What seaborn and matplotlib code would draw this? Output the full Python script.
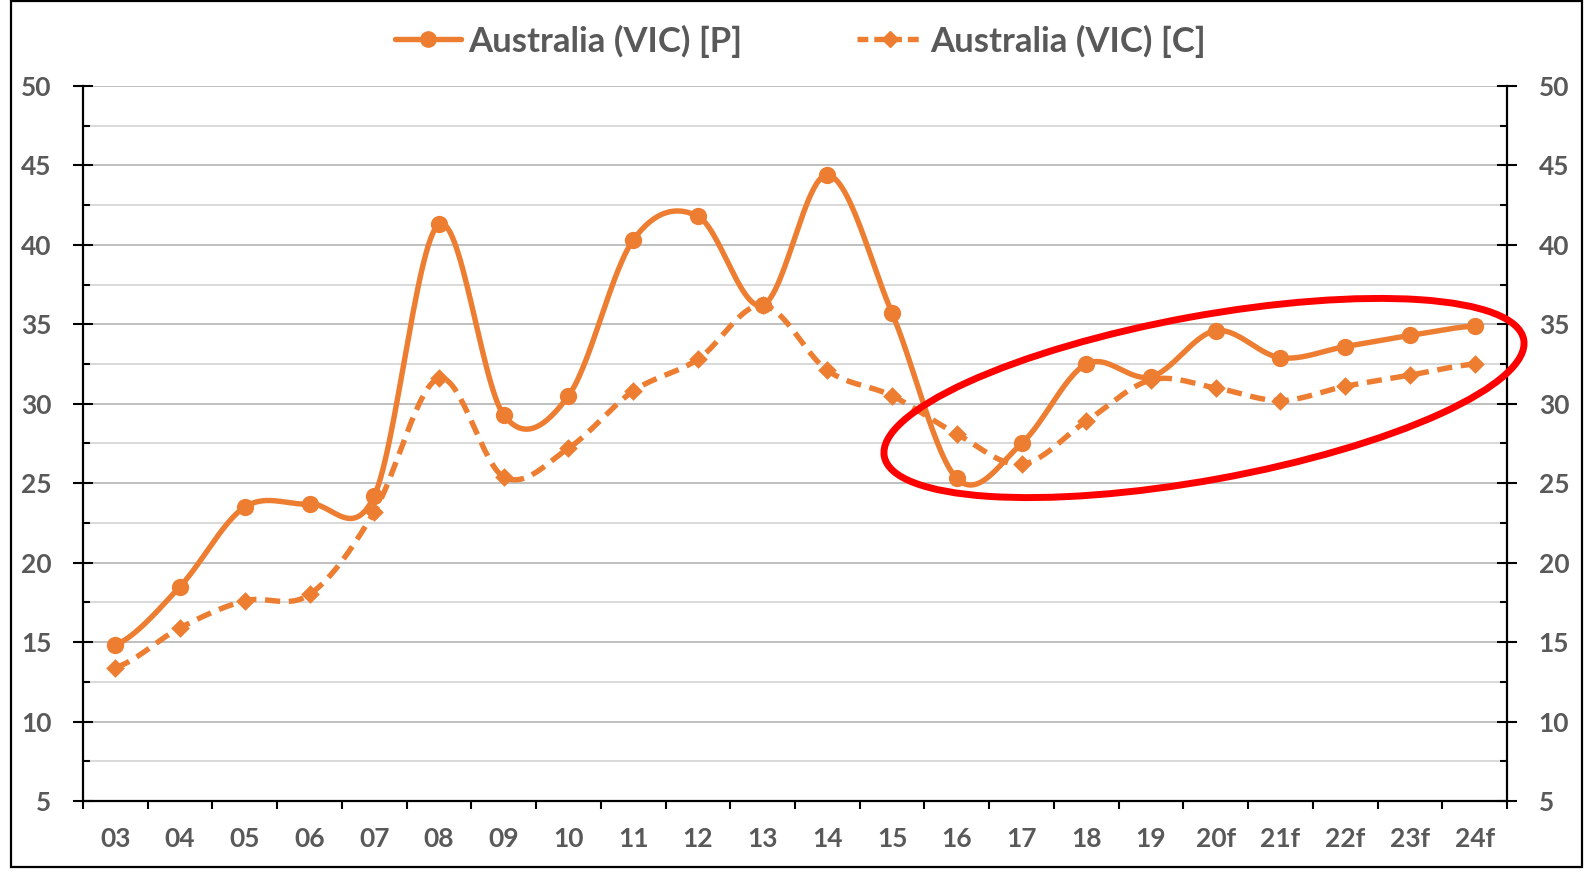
import numpy as np
import pandas as pd
import matplotlib
matplotlib.use("Agg")
import matplotlib.pyplot as plt
import seaborn as sns
from matplotlib.patches import Ellipse, Rectangle
from matplotlib.lines import Line2D

# ---------------- data ----------------
years = ["03", "04", "05", "06", "07", "08", "09", "10", "11", "12", "13",
         "14", "15", "16", "17", "18", "19", "20f", "21f", "22f", "23f", "24f"]
vic_p = [14.8, 18.5, 23.5, 23.7, 24.2, 41.3, 29.3, 30.5, 40.3, 41.8, 36.2,
         44.4, 35.7, 25.3, 27.5, 32.5, 31.7, 34.6, 32.9, 33.6, 34.3, 34.9]
vic_c = [13.4, 15.9, 17.6, 18.0, 23.2, 31.6, 25.4, 27.2, 30.8, 32.8, 36.2,
         32.1, 30.5, 28.1, 26.2, 28.9, 31.5, 31.0, 30.2, 31.1, 31.8, 32.5]
series_names = ["Australia (VIC) [P]", "Australia (VIC) [C]"]
y_major = [5, 10, 15, 20, 25, 30, 35, 40, 45, 50]

ORANGE = "#ED7D31"
GREY_TXT = "#595959"
LW = 3.9

sns.set_theme(style="white")
plt.rcParams['font.family'] = ['Lato', 'DejaVu Sans']
plt.rcParams['font.weight'] = 'bold'


def smooth(vals, n=30):
    """Excel-like smoothed line (Catmull-Rom / cubic Hermite through points)."""
    y = np.asarray(vals, float)
    m = len(y)
    tang = np.empty(m)
    tang[1:-1] = (y[2:] - y[:-2]) / 2.0
    tang[0] = (y[1] - y[0]) / 2.0
    tang[-1] = (y[-1] - y[-2]) / 2.0
    xs, ys = [], []
    t = np.linspace(0, 1, n, endpoint=False)
    h00 = 2 * t**3 - 3 * t**2 + 1
    h10 = t**3 - 2 * t**2 + t
    h01 = -2 * t**3 + 3 * t**2
    h11 = t**3 - t**2
    for i in range(m - 1):
        xs.append(i + t)
        ys.append(h00 * y[i] + h10 * tang[i] + h01 * y[i + 1] + h11 * tang[i + 1])
    xs.append(np.array([m - 1.0]))
    ys.append(np.array([y[-1]]))
    return np.concatenate(xs), np.concatenate(ys)


W, H = 1588, 872
fig = plt.figure(figsize=(W / 100, H / 100), dpi=100)
ax = fig.add_axes([83 / W, 71 / H, 1424 / W, 715 / H])

idx = np.arange(len(years))

# smoothed lines
xp, yp = smooth(vic_p)
xc, yc = smooth(vic_c)
df_p = pd.DataFrame({"x": xp, "y": yp})
df_c = pd.DataFrame({"x": xc, "y": yc})
sns.lineplot(data=df_p, x="x", y="y", ax=ax, color=ORANGE, linewidth=LW,
             sort=False, estimator=None, zorder=3)
sns.lineplot(data=df_c, x="x", y="y", ax=ax, color=ORANGE, linewidth=LW,
             sort=False, estimator=None, zorder=3)
solid_line, dash_line = ax.lines[-2], ax.lines[-1]
solid_line.set_linewidth(LW)
dash_line.set_linewidth(LW)
dash_line.set_linestyle((0, (2.8, 1.6)))
dash_line.set_dash_capstyle("butt")

# markers
sns.scatterplot(x=idx, y=vic_p, ax=ax, marker="o", s=155, color=ORANGE,
                edgecolor=ORANGE, linewidth=0, zorder=4)
sns.scatterplot(x=idx, y=vic_c, ax=ax, marker="D", s=90, color=ORANGE,
                edgecolor=ORANGE, linewidth=0, zorder=4)

# axes scales
ax.set_xlim(-0.5, len(years) - 0.5)
ax.set_ylim(5, 50)
ax.set_xlabel("")
ax.set_ylabel("")

ax.set_xticks(np.arange(-0.5, len(years), 1.0))
ax.set_xticklabels([])
ax.set_xticks(idx, minor=True)
ax.set_xticklabels(years, minor=True)
ax.tick_params(axis="x", which="major", direction="out", length=5.8, width=1.5,
               color="black", bottom=True)
ax.tick_params(axis="x", which="minor", length=0, pad=19, labelsize=19,
               labelcolor=GREY_TXT, bottom=True)

ax.set_yticks(y_major)
ax.set_yticks(np.arange(7.5, 50, 5), minor=True)
ax.yaxis.set_ticks_position("both")
ax.tick_params(axis="y", which="major", direction="inout", length=13.7, width=1.5,
               color="black", left=True, right=True, labelleft=True, labelright=True,
               labelsize=19, labelcolor=GREY_TXT, pad=16)
ax.tick_params(axis="y", which="minor", direction="in", length=5, width=1.5,
               color="black", left=True, right=True)
for lab in ax.get_xticklabels(minor=True) + ax.get_yticklabels():
    lab.set_fontweight("bold")

ax.grid(False)
ax.grid(True, axis="y", which="major", color="#BFBFBF", linewidth=1.4, zorder=0)
ax.grid(True, axis="y", which="minor", color="#D9D9D9", linewidth=1.4, zorder=0)
ax.set_axisbelow(True)

for side in ["left", "right", "bottom"]:
    ax.spines[side].set_visible(True)
    ax.spines[side].set_color("black")
    ax.spines[side].set_linewidth(1.6)
ax.spines["top"].set_visible(False)

# legend
handles = [
    Line2D([], [], color=ORANGE, lw=LW, marker="o", markersize=11),
    Line2D([], [], color=ORANGE, lw=LW, marker="D", markersize=8.5,
           linestyle=(0, (2.0, 1.1)), dash_capstyle="butt"),
]
leg = fig.legend(handles, series_names, loc="center", bbox_to_anchor=(0.504, 0.953),
                 ncol=2, frameon=False, prop={"size": 25, "weight": "bold"},
                 handlelength=1.9, handletextpad=0.2, columnspacing=3.3)
for txt in leg.get_texts():
    txt.set_color(GREY_TXT)

# highlight ellipse (display inches)
ell = Ellipse((12.04, 4.74), 6.5, 1.64, angle=10.35, transform=fig.dpi_scale_trans,
              fill=False, edgecolor="#FF0000", linewidth=5, zorder=10)
fig.add_artist(ell)

# chart border
fig.add_artist(Rectangle((11 / W, 5 / H), (1582 - 11) / W, (871 - 5) / H,
                         transform=fig.transFigure, fill=False, edgecolor="black",
                         linewidth=1.6))

fig.savefig("out.png", dpi=100)
